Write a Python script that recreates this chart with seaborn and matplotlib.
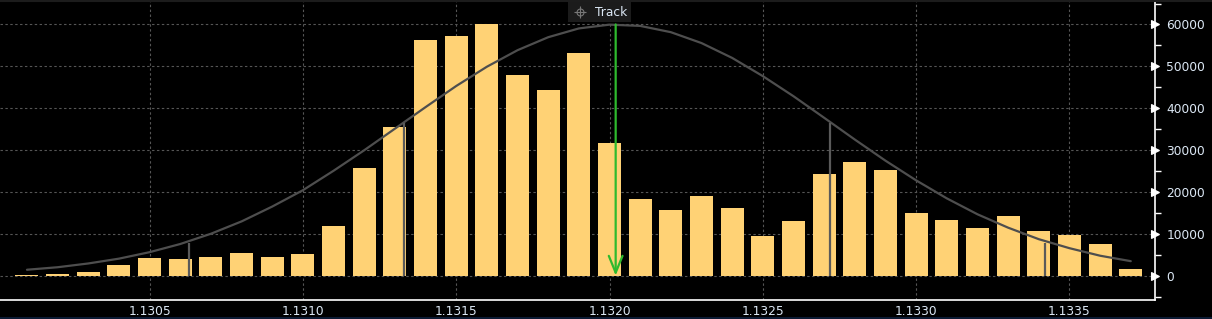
import numpy as np
import pandas as pd
import matplotlib
matplotlib.use("Agg")
import matplotlib.pyplot as plt
from matplotlib.lines import Line2D
from matplotlib.ticker import MultipleLocator
import seaborn as sns

# ---- data ----
prices = [1.1301, 1.1302, 1.1303, 1.1304, 1.1305, 1.1306, 1.1307, 1.1308, 1.1309,
          1.1310, 1.1311, 1.1312, 1.1313, 1.1314, 1.1315, 1.1316, 1.1317, 1.1318,
          1.1319, 1.1320, 1.1321, 1.1322, 1.1323, 1.1324, 1.1325, 1.1326, 1.1327,
          1.1328, 1.1329, 1.1330, 1.1331, 1.1332, 1.1333, 1.1334, 1.1335, 1.1336,
          1.1337]
volumes = [200, 400, 800, 2450, 4200, 3950, 4450, 5350, 4450,
           5150, 11800, 25700, 35600, 56300, 57300, 60000, 48000, 44400,
           53200, 31700, 18300, 15650, 19000, 16100, 9400, 13000, 24300,
           27100, 25200, 14900, 13250, 11300, 14200, 10600, 9650, 7500,
           1500]
curve_vals = [1400, 2000, 2900, 4050, 5600, 7550, 10000, 12950, 16500,
              20400, 25050, 29950, 35100, 40250, 45300, 49900, 53850, 56950,
              59050, 59950, 59650, 58150, 55550, 52000, 47650, 42850, 37700,
              32500, 27450, 22750, 18450, 14650, 11450, 8700, 6550, 4750,
              3450]
sigma_x = [1.13063, 1.13133, 1.13272, 1.13342]
sigma_top = [7900, 36400, 36500, 7900]
track_x = 1.13202
track_top = 60000
xtick_vals = [1.1305, 1.1310, 1.1315, 1.1320, 1.1325, 1.1330, 1.1335]
xtick_labels = ["1.1305", "1.1310", "1.1315", "1.1320", "1.1325", "1.1330", "1.1335"]
ytick_vals = [0, 10000, 20000, 30000, 40000, 50000, 60000]
ytick_labels = ["0", "10000", "20000", "30000", "40000", "50000", "60000"]

df = pd.DataFrame({"price": prices, "volume": volumes, "curve": curve_vals})

sns.set_style("dark")
plt.rcParams["font.family"] = ["DejaVu Sans"]

W, H, DPI = 1212, 319, 100
fig = plt.figure(figsize=(W / DPI, H / DPI), dpi=DPI, facecolor="black")
ax = fig.add_axes([0.0, 1 - 300.3 / H, 1155.3 / W, (300.3 - 1.0) / H])
ax.set_facecolor("black")

BAR = "#FFD275"
TXT = "#DCE8F5"
FS = 8.8

sns.histplot(data=df, x="price", weights="volume", binwidth=0.0001,
             binrange=(1.13005, 1.13375), shrink=0.75, color=BAR,
             alpha=1, linewidth=0, ax=ax, zorder=2)

sns.lineplot(data=df, x="price", y="curve", color="#4e4e4e", linewidth=1.6,
             ax=ax, zorder=3)

ax.vlines(sigma_x, 0, sigma_top, colors="#5a5a5a", linewidth=1.6, zorder=3)

ax.annotate("", xy=(track_x, 0), xytext=(track_x, track_top),
            arrowprops=dict(arrowstyle="->,head_length=1.1,head_width=0.45",
                            color="#2EBA2E", lw=1.6, shrinkA=0, shrinkB=0,
                            mutation_scale=11),
            zorder=4)

ax.set_xlim(1.130012, 1.133780)
ax.set_ylim(-5900, 65600)

ax.set_xticks(xtick_vals)
ax.set_xticklabels(xtick_labels)
ax.set_yticks(ytick_vals)
ax.set_yticklabels(ytick_labels)
ax.yaxis.set_minor_locator(MultipleLocator(5000))
ax.yaxis.tick_right()
ax.set_xlabel("")
ax.set_ylabel("")

ax.grid(True, which="major", color="#555555", linestyle=(0, (2.2, 2.2)),
        linewidth=0.8, zorder=0)
ax.set_axisbelow(True)

for s in ["left", "top"]:
    ax.spines[s].set_visible(False)
for s in ["right", "bottom"]:
    ax.spines[s].set_visible(True)
    ax.spines[s].set_color("white")
    ax.spines[s].set_linewidth(1.2)

ax.tick_params(axis="x", colors="white", labelcolor=TXT, labelsize=FS,
               length=3, width=1, pad=0.5, direction="out")
ax.tick_params(axis="y", which="major", colors="white", labelcolor=TXT,
               labelsize=FS, length=0, pad=8, left=False, right=True)
ax.tick_params(axis="y", which="minor", colors="white", length=4, width=1,
               left=False, right=True)
for t in ax.yaxis.get_major_ticks():
    t.tick2line.set_marker(">")
    t.tick2line.set_markersize(5.5)
    t.tick2line.set_markerfacecolor("white")
    t.tick2line.set_markeredgecolor("white")
    t.tick2line.set_visible(True)

# top faint frame line and bottom navy line
fig.add_artist(Line2D([0, 1], [1 - 0.5 / H, 1 - 0.5 / H], color="#1c1c1c",
                      lw=1.5, transform=fig.transFigure))
fig.add_artist(Line2D([0, 1], [0.8 / H, 0.8 / H], color="#0b1a33",
                      lw=1.5, transform=fig.transFigure))

# "Track" legend box
fig.add_artist(plt.Rectangle((568 / W, 1 - 22 / H), 63 / W, 20 / H,
                             transform=fig.transFigure, facecolor="#1b1b1b",
                             edgecolor="none", zorder=10))
fig.text(595 / W, 1 - 12 / H, "Track", color=TXT, fontsize=FS,
         ha="left", va="center", zorder=11)
fig.add_artist(Line2D([580 / W], [1 - 12 / H], marker="o", markersize=5,
                      markerfacecolor="none", markeredgecolor="#777777",
                      markeredgewidth=0.8, transform=fig.transFigure, zorder=11))
fig.add_artist(Line2D([580 / W], [1 - 12 / H], marker="+", markersize=9,
                      markeredgecolor="#777777", markeredgewidth=0.8,
                      transform=fig.transFigure, zorder=11))

fig.savefig("out.png", dpi=DPI, facecolor="black")
